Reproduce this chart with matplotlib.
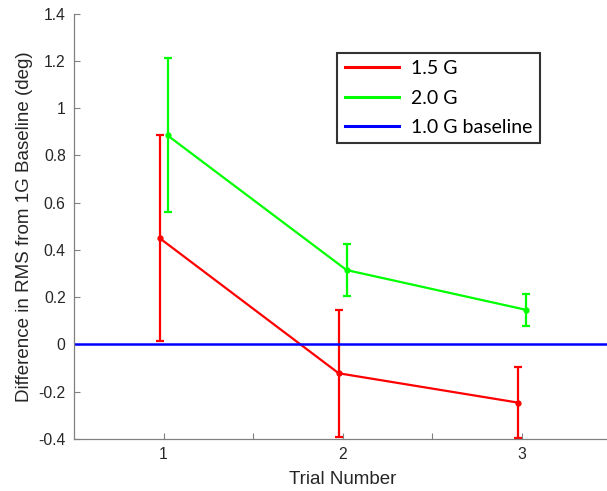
import numpy as np
import matplotlib.pyplot as plt

# Mean difference in RMS from the 1G baseline, per trial
trials = np.array([1, 2, 3])
g15_mean = [0.45, -0.122, -0.246]
g15_err = [0.435, 0.27, 0.152]
g20_mean = [0.885, 0.315, 0.147]
g20_err = [0.326, 0.11, 0.068]
baseline = 0.0

series_labels = ['1.5 G', '2.0 G', '1.0 G baseline']
xtick_pos = [1, 1.5, 2, 2.5, 3]
xtick_labels = ['1', '', '2', '', '3']
ytick_pos = np.arange(-0.4, 1.41, 0.2)
ytick_labels = ['-0.4', '-0.2', '0', '0.2', '0.4', '0.6', '0.8', '1', '1.2', '1.4']

plt.rcParams['font.family'] = ['Liberation Sans', 'DejaVu Sans']

fig = plt.figure(figsize=(6.07, 4.91), dpi=100)
ax = fig.add_axes([0.122, 0.106, 0.885, 0.866])

shift = 0.022
red, = ax.plot(trials - shift, g15_mean, color='#ff0000', lw=1.6)
ax.errorbar(trials - shift, g15_mean, yerr=g15_err, fmt='o', ms=3.5,
            color='#ff0000', elinewidth=1.6, capsize=3, capthick=1.6)
green, = ax.plot(trials + shift, g20_mean, color='#00ff00', lw=1.6)
ax.errorbar(trials + shift, g20_mean, yerr=g20_err, fmt='o', ms=3.5,
            color='#00ff00', elinewidth=1.6, capsize=3, capthick=1.6)
blue = ax.axhline(baseline, color='#0000ff', lw=1.8)

ax.set_xlim(0.5, 3.5)
ax.set_ylim(-0.4, 1.4)
ax.set_xticks(xtick_pos)
ax.set_xticklabels(xtick_labels)
ax.set_yticks(ytick_pos)
ax.set_yticklabels(ytick_labels)
ax.tick_params(direction='in', length=4, width=0.8, color='#808080',
               labelsize=11.3, labelcolor='#262626', pad=6)
for side in ['top', 'right']:
    ax.spines[side].set_visible(False)
for side in ['left', 'bottom']:
    ax.spines[side].set_color('#808080')
    ax.spines[side].set_linewidth(0.9)

ax.set_xlabel('Trial Number', fontsize=13.5, color='#262626', labelpad=6)
ax.set_ylabel('Difference in RMS from 1G Baseline (deg)', fontsize=13.5,
              color='#262626', labelpad=4)

leg = ax.legend([red, green, blue], series_labels, loc='upper left',
                bbox_to_anchor=(0.490, 0.908), frameon=True, fancybox=False,
                prop={'family': 'Lato', 'size': 14}, handlelength=2.8,
                borderpad=0.38, labelspacing=0.63, handletextpad=0.62,
                borderaxespad=0)
leg.get_frame().set_edgecolor('black')
leg.get_frame().set_linewidth(1.5)
for line in leg.get_lines():
    line.set_linewidth(2.2)

fig.savefig('out.png', dpi=100, facecolor='white')
